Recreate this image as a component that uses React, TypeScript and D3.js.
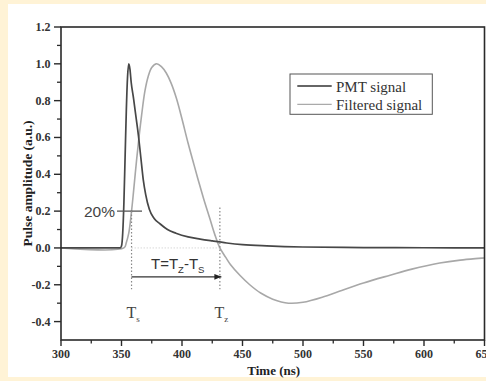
import React from "react";
import * as d3 from "d3";

// PMT pulse (time in ns, normalised amplitude)
const pmtTime = [300, 349, 350, 351, 352, 353, 354, 355, 356, 357, 358, 360, 362, 364, 366, 368, 370, 373, 377, 382, 388, 395, 405, 415, 425, 437, 450, 470, 500, 550, 600, 650];
const pmtValue = [0, 0, 0.01, 0.08, 0.25, 0.5, 0.75, 0.93, 1.0, 0.97, 0.9, 0.81, 0.71, 0.61, 0.49, 0.37, 0.29, 0.21, 0.16, 0.13, 0.1, 0.08, 0.06, 0.048, 0.038, 0.027, 0.018, 0.011, 0.005, 0.002, 0.001, 0];

// Shaped (filtered) pulse
const filtTime = [300, 352, 354, 356, 358.3, 360, 362.5, 364.6, 366.6, 369.3, 372, 375, 379, 383, 387, 391, 395.5, 400, 405, 410, 414, 418, 423, 427, 431.3, 436, 440, 448, 456, 465, 475, 488, 500, 517, 530, 550, 572, 590, 613, 630, 650];
const filtValue = [0, 0, 0.03, 0.08, 0.2, 0.31, 0.48, 0.61, 0.72, 0.85, 0.93, 0.98, 1.0, 0.985, 0.95, 0.895, 0.81, 0.7, 0.57, 0.45, 0.355, 0.265, 0.16, 0.075, 0.0, -0.05, -0.09, -0.15, -0.2, -0.245, -0.278, -0.3, -0.295, -0.265, -0.235, -0.19, -0.148, -0.115, -0.082, -0.066, -0.054];

const xTicks = [300, 350, 400, 450, 500, 550, 600, 650];
const yTicks = [-0.4, -0.2, 0.0, 0.2, 0.4, 0.6, 0.8, 1.0, 1.2];
const seriesNames = ["PMT signal", "Filtered signal"];

// Annotation values
const threshold = 0.2;
const tStart = 358.3;
const tZero = 431.3;
const arrowLevel = -0.157;

const W = 486;
const H = 381;
const left = 61;
const right = 484.5;
const top = 27;
const bottom = 340;

export default function App() {
  const x = d3.scaleLinear().domain([300, 650]).range([left, right]);
  const y = d3.scaleLinear().domain([-0.5, 1.2]).range([bottom, top]);

  const line = d3
    .line<[number, number]>()
    .x((d) => x(d[0]))
    .y((d) => y(d[1]))
    .curve(d3.curveMonotoneX);

  const smooth = d3
    .line<[number, number]>()
    .x((d) => x(d[0]))
    .y((d) => y(d[1]))
    .curve(d3.curveCatmullRom.alpha(0.5));

  const pmt = pmtTime.map((t, i) => [t, pmtValue[i]] as [number, number]);
  const filt = filtTime.map((t, i) => [t, filtValue[i]] as [number, number]);

  const xMinor = d3.range(325, 650, 50);
  const yMinor = d3.range(-0.3, 1.2, 0.2).map((v) => +v.toFixed(1));

  const serif = "'Liberation Serif', 'Times New Roman', serif";
  const sans = "'Liberation Sans', Arial, sans-serif";
  const axisColor = "#2a2a2a";

  return (
    <svg
      width={W}
      height={H}
      style={{ position: "fixed", left: 0, top: 0 }}
      xmlns="http://www.w3.org/2000/svg"
    >
      <defs>
        <marker id="arrowHead" viewBox="0 0 10 10" refX="10" refY="5" markerWidth="9" markerHeight="7" markerUnits="userSpaceOnUse" orient="auto">
          <path d="M0,1 L10,5 L0,9 Z" fill="#222" />
        </marker>
      </defs>
      <rect x={0} y={0} width={W} height={H} fill="#FFF3D6" />
      <rect x={8} y={4} width={W - 8} height={373} fill="#ffffff" />

      {/* zero reference */}
      <line x1={x(tStart)} x2={x(tZero)} y1={y(0)} y2={y(0)} stroke="#d8d8d8" strokeWidth={1} strokeDasharray="1.5,1.5" />

      {/* curves */}
      <path d={smooth(filt) || ""} fill="none" stroke="#a8a8a8" strokeWidth={1.6} />
      <path d={line(pmt) || ""} fill="none" stroke="#474747" strokeWidth={1.7} />

      {/* threshold marker */}
      <line x1={117} x2={142} y1={y(threshold)} y2={y(threshold)} stroke="#555" strokeWidth={1.3} />
      <text x={115} y={y(threshold) + 5.5} fontFamily={sans} fontSize={15.5} fill="#444" textAnchor="end">20%</text>

      {/* Ts / Tz guides */}
      <line x1={x(tStart)} x2={x(tStart)} y1={y(0.2)} y2={y(-0.225)} stroke="#888" strokeWidth={1.2} strokeDasharray="1.5,2" />
      <line x1={x(tZero)} x2={x(tZero)} y1={y(0.22)} y2={y(-0.225)} stroke="#888" strokeWidth={1.2} strokeDasharray="1.5,2" />
      <line x1={x(tStart)} x2={x(tZero) + 1.5} y1={y(arrowLevel)} y2={y(arrowLevel)} stroke="#333" strokeWidth={1.4} markerEnd="url(#arrowHead)" />

      <text x={(x(tStart) + x(tZero)) / 2 + 2} y={y(arrowLevel) - 8} fontFamily={sans} fontSize={15} fill="#333" textAnchor="middle">
        <tspan>T=T</tspan>
        <tspan fontSize={9.5} dy={4}>Z</tspan>
        <tspan dy={-4}>-T</tspan>
        <tspan fontSize={9.5} dy={4}>S</tspan>
      </text>

      <text x={x(tStart) + 1.5} y={y(-0.38)} fontFamily={serif} fontSize={16} fill="#444" textAnchor="middle">
        <tspan>T</tspan>
        <tspan fontSize={9} dy={4}>s</tspan>
      </text>
      <text x={x(tZero) + 1.5} y={y(-0.38)} fontFamily={serif} fontSize={16} fill="#444" textAnchor="middle">
        <tspan>T</tspan>
        <tspan fontSize={9} dy={4}>z</tspan>
      </text>

      {/* frame */}
      <rect x={left} y={top} width={right - left} height={bottom - top} fill="none" stroke={axisColor} strokeWidth={1.6} />

      {/* x axis ticks */}
      {xTicks.map((t) => (
        <g key={"xt" + t}>
          <line x1={x(t)} x2={x(t)} y1={bottom} y2={bottom + 6} stroke={axisColor} strokeWidth={1.4} />
          <text x={x(t)} y={bottom + 18} fontFamily={serif} fontWeight="bold" fontSize={12} fill="#333" textAnchor="middle">{t}</text>
        </g>
      ))}
      {xMinor.map((t) => (
        <line key={"xm" + t} x1={x(t)} x2={x(t)} y1={bottom} y2={bottom + 3.5} stroke={axisColor} strokeWidth={1.3} />
      ))}

      {/* y axis ticks */}
      {yTicks.map((v) => (
        <g key={"yt" + v}>
          <line x1={left - 7} x2={left} y1={y(v)} y2={y(v)} stroke={axisColor} strokeWidth={1.4} />
          <text x={50.5} y={y(v) + 4} fontFamily={serif} fontWeight="bold" fontSize={12} fill="#333" textAnchor="end">{v.toFixed(1)}</text>
        </g>
      ))}
      {yMinor.map((v) => (
        <line key={"ym" + v} x1={left - 4} x2={left} y1={y(v)} y2={y(v)} stroke={axisColor} strokeWidth={1.3} />
      ))}

      {/* axis titles */}
      <text x={(left + right) / 2 + 1} y={375} fontFamily={serif} fontWeight="bold" fontSize={13} fill="#222" textAnchor="middle">Time (ns)</text>
      <text transform={`translate(31.5, ${(top + bottom) / 2}) rotate(-90)`} fontFamily={serif} fontWeight="bold" fontSize={13.5} fill="#222" textAnchor="middle">Pulse amplitude (a.u.)</text>

      {/* legend */}
      <rect x={290} y={74} width={142.3} height={40.3} fill="#fff" stroke="#555" strokeWidth={1} />
      <line x1={297.3} x2={331.7} y1={86} y2={86} stroke="#333" strokeWidth={1.3} />
      <line x1={297.3} x2={331.7} y1={104.3} y2={104.3} stroke="#aaa" strokeWidth={1.3} />
      <text x={336} y={91.5} fontFamily={serif} fontSize={15} fill="#333">{seriesNames[0]}</text>
      <text x={336} y={110} fontFamily={serif} fontSize={15} fill="#333">{seriesNames[1]}</text>
    </svg>
  );
}
